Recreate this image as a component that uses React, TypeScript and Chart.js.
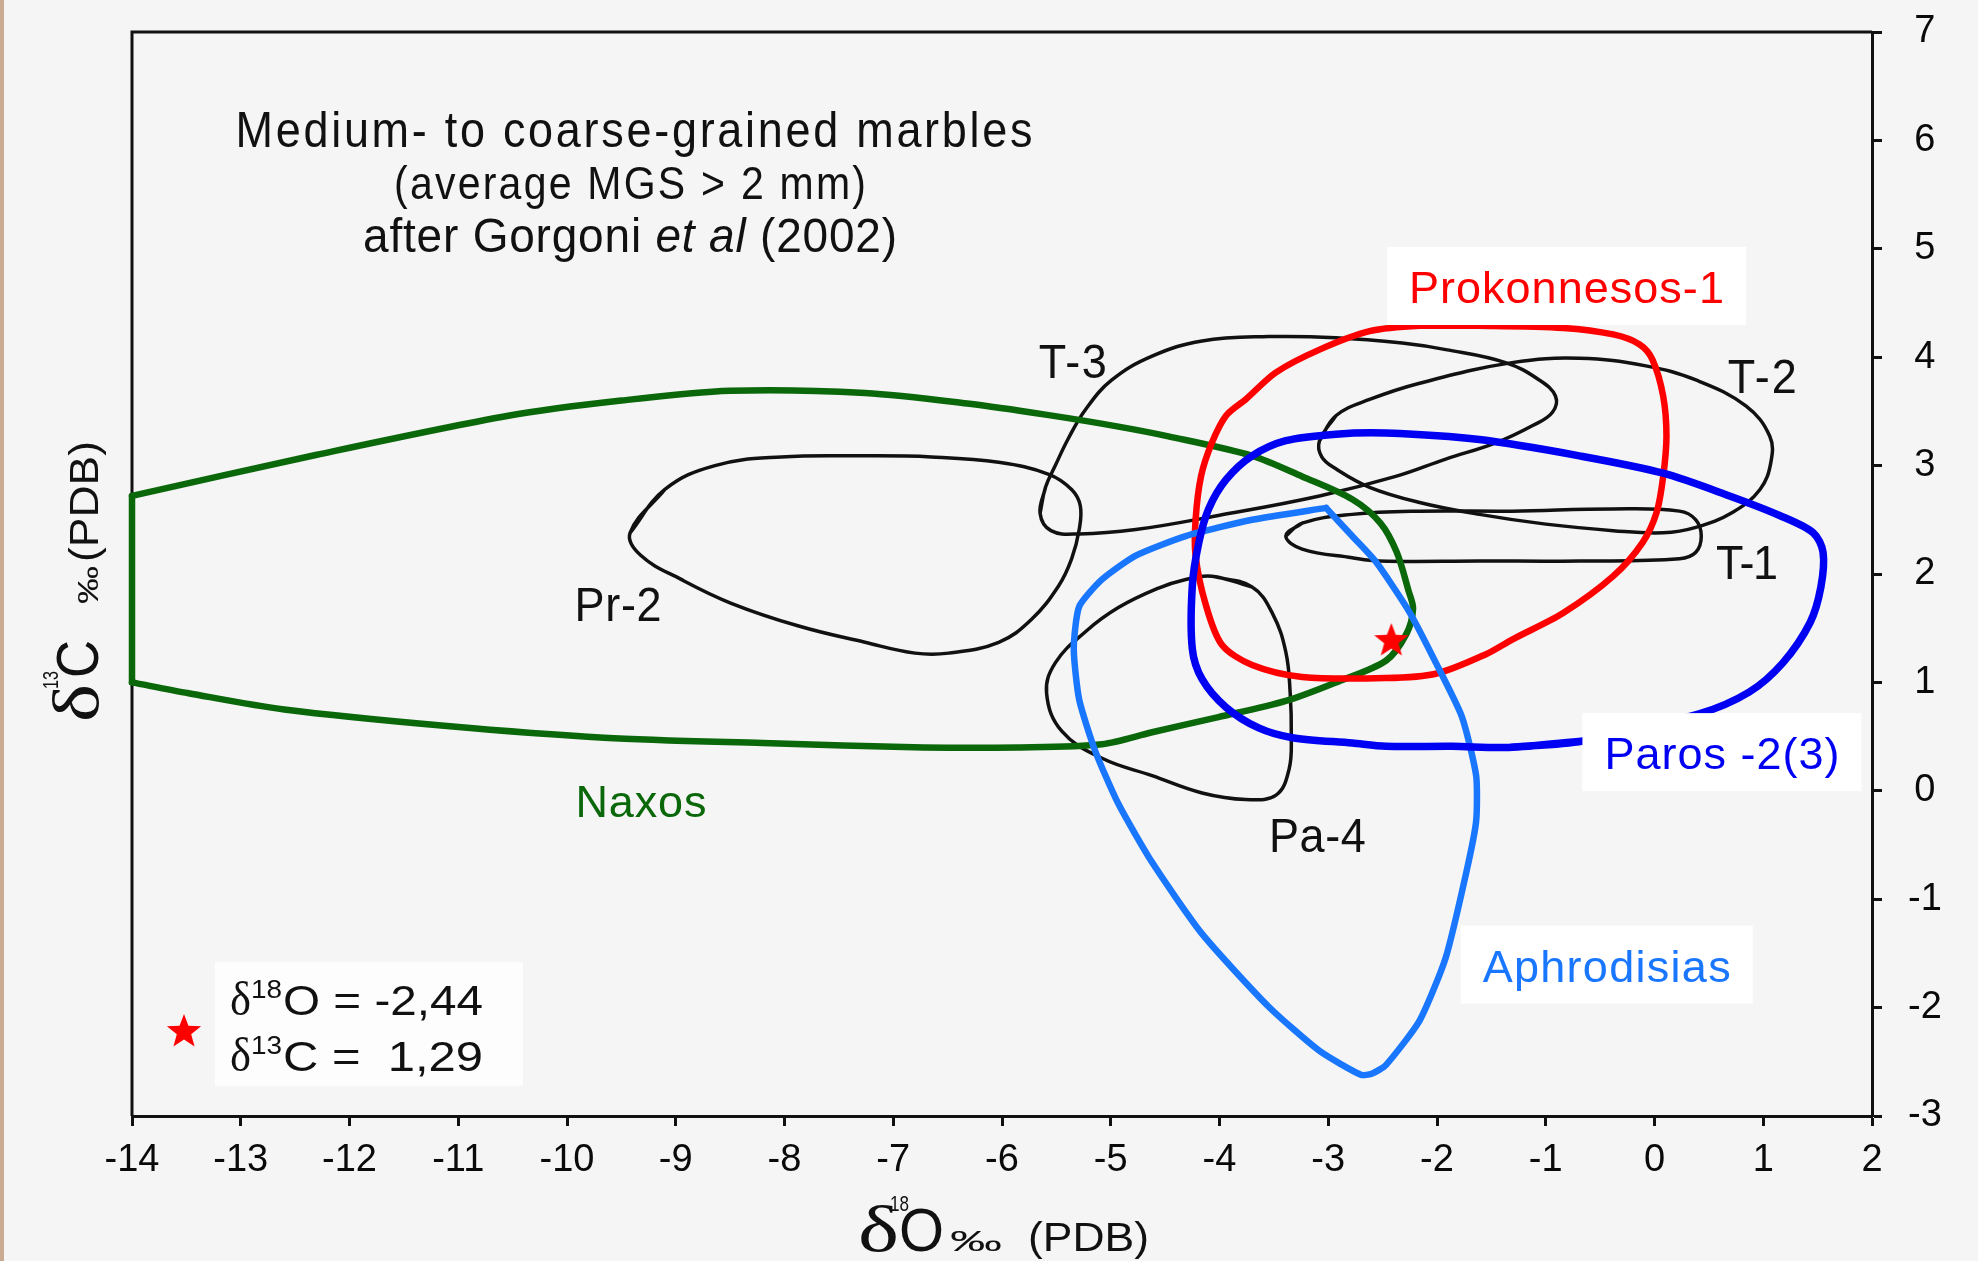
import React, { useEffect, useRef } from 'react';
import { Chart, registerables } from 'chart.js';

Chart.register(...registerables);

type Pt = [number, number];

const W = 1978;
const H = 1261;
const FONT = '"Liberation Sans", Arial, sans-serif';
const SERIF = '"Liberation Serif", "Times New Roman", serif';

// ---------- data (δ18O, δ13C) ----------
const naxosSide: Pt[] = [[-14, 1.0], [-14, 2.72]];
const naxos: Pt[] = [
  [-14, 2.72], [-12.3, 3.1], [-10.54, 3.46], [-9.5, 3.6], [-8.5, 3.69], [-7.26, 3.67],
  [-6.3, 3.57], [-5.6, 3.47], [-4.93, 3.36], [-4.47, 3.27], [-3.7, 3.09], [-3.24, 2.9],
  [-2.78, 2.69], [-2.52, 2.47], [-2.37, 2.2], [-2.26, 1.84], [-2.22, 1.68], [-2.28, 1.45],
  [-2.47, 1.2], [-2.93, 1.0], [-3.39, 0.83], [-4.01, 0.68], [-4.62, 0.54], [-5.08, 0.43],
  [-5.85, 0.4], [-6.72, 0.4], [-8.2, 0.44], [-9.66, 0.49], [-11.13, 0.6], [-12.6, 0.75],
  [-13.48, 0.9], [-14, 1.0],
];
const pr2: Pt[] = [
  [-9.42, 2.38], [-9.1, 2.78], [-8.64, 3.0], [-8.03, 3.08], [-7.26, 3.09], [-6.65, 3.08],
  [-6.03, 3.03], [-5.57, 2.92], [-5.36, 2.78], [-5.28, 2.63], [-5.29, 2.41], [-5.36, 2.14],
  [-5.48, 1.89], [-5.73, 1.58], [-6.03, 1.37], [-6.49, 1.27], [-6.8, 1.27], [-7.26, 1.37],
  [-7.87, 1.52], [-8.49, 1.73], [-8.95, 1.95], [-9.32, 2.17],
];
const t3: Pt[] = [
  [-5.65, 2.56], [-5.6, 2.8], [-5.51, 3.0], [-5.39, 3.25], [-5.23, 3.52], [-4.99, 3.79],
  [-4.62, 4.01], [-4.16, 4.15], [-3.55, 4.19], [-2.93, 4.18], [-2.32, 4.13], [-1.92, 4.07],
  [-1.37, 3.95], [-1.06, 3.79], [-0.91, 3.64], [-0.94, 3.49], [-1.12, 3.37], [-1.46, 3.21],
  [-1.92, 3.06], [-2.38, 2.9], [-3.08, 2.72], [-4.01, 2.54], [-4.77, 2.41], [-5.29, 2.37],
  [-5.55, 2.4],
];
const t2: Pt[] = [
  [-3.08, 3.23], [-2.93, 3.46], [-2.62, 3.61], [-2.16, 3.76], [-1.31, 3.95], [-0.69, 3.99],
  [-0.08, 3.92], [0.38, 3.79], [0.84, 3.55], [1.06, 3.27], [1.07, 3.03], [0.97, 2.78],
  [0.72, 2.57], [0.38, 2.43], [0.08, 2.38], [-0.38, 2.4], [-1.0, 2.46], [-1.61, 2.55],
  [-2.16, 2.66], [-2.62, 2.8], [-2.93, 2.97], [-3.06, 3.08],
];
const t1: Pt[] = [
  [-3.39, 2.35], [-3.24, 2.47], [-2.78, 2.55], [-2.16, 2.58], [-1.31, 2.58], [-0.39, 2.6],
  [0.23, 2.58], [0.38, 2.5], [0.43, 2.35], [0.38, 2.2], [0.23, 2.14], [-0.69, 2.12],
  [-1.61, 2.12], [-2.53, 2.12], [-2.78, 2.15], [-3.24, 2.23],
];
const pa4: Pt[] = [
  [-4.07, 1.98], [-3.7, 1.88], [-3.51, 1.63], [-3.39, 1.28], [-3.35, 0.9], [-3.34, 0.52],
  [-3.36, 0.2], [-3.48, -0.04], [-3.76, -0.08], [-4.16, -0.02], [-4.62, 0.14], [-5.08, 0.3],
  [-5.45, 0.55], [-5.59, 0.9], [-5.51, 1.18], [-5.23, 1.47], [-4.93, 1.69], [-4.56, 1.87],
  [-4.31, 1.95],
];
const prokonnesos: Pt[] = [
  [-2.16, 4.29], [-1.61, 4.29], [-0.84, 4.27], [-0.38, 4.21], [-0.14, 4.12], [-0.02, 3.98],
  [0.08, 3.64], [0.11, 3.27], [0.08, 2.9], [0.02, 2.57], [-0.11, 2.29], [-0.38, 1.98],
  [-0.84, 1.64], [-1.3, 1.4], [-1.55, 1.26], [-2.01, 1.08], [-2.47, 1.04], [-3.24, 1.05],
  [-3.7, 1.16], [-3.98, 1.35], [-4.13, 1.73], [-4.22, 2.17], [-4.22, 2.5], [-4.17, 2.9],
  [-4.07, 3.21], [-3.94, 3.46], [-3.76, 3.61], [-3.48, 3.86], [-3.08, 4.07], [-2.62, 4.24],
];
const paros: Pt[] = [
  [-0.66, 0.46], [-1.34, 0.4], [-1.86, 0.41], [-2.47, 0.41], [-2.78, 0.44], [-3.33, 0.49],
  [-3.64, 0.58], [-3.94, 0.77], [-4.16, 1.03], [-4.25, 1.31], [-4.25, 1.89], [-4.19, 2.29],
  [-4.1, 2.6], [-3.94, 2.87], [-3.7, 3.09], [-3.39, 3.23], [-2.93, 3.29], [-2.47, 3.3],
  [-1.61, 3.24], [-0.69, 3.09], [0.08, 2.93], [0.69, 2.72], [1.15, 2.54], [1.46, 2.38],
  [1.55, 2.2], [1.53, 1.88], [1.43, 1.55], [1.18, 1.18], [0.87, 0.91], [0.41, 0.71],
];
const aphrodisias: Pt[] = [
  [-3.02, 2.61], [-3.7, 2.5], [-4.31, 2.35], [-4.77, 2.17], [-5.08, 1.95], [-5.29, 1.7],
  [-5.34, 1.31], [-5.29, 0.84], [-5.14, 0.36], [-4.93, -0.12], [-4.62, -0.66], [-4.16, -1.32],
  [-3.55, -1.99], [-3.08, -2.4], [-2.7, -2.62], [-2.6, -2.61], [-2.47, -2.53], [-2.16, -2.12],
  [-1.92, -1.54], [-1.73, -0.75], [-1.64, -0.28], [-1.64, 0.14], [-1.77, 0.68], [-2.01, 1.18],
  [-2.26, 1.66], [-2.56, 2.11], [-2.78, 2.35], [-3.02, 2.61],
];
const samplePoint: Pt[] = [[-2.42, 1.4]];

// ---------- labels ----------
const regionNames = ['Pr-2', 'T-3', 'T-2', 'T-1', 'Pa-4'];
const regionNameX = [-9.53, -5.35, 0.99, 0.85, -3.1];
const regionNameY = [1.57, 3.81, 3.67, 1.95, -0.56];
const regionNameW = [87, 68, 69, 62, 97];

const groupNames = ['Naxos', 'Prokonnesos-1', 'Paros -2(3)', 'Aphrodisias'];
const groupNameX = [-9.32, -0.81, 0.62, -0.44];
const groupNameY = [-0.245, 4.5, 0.2, -1.76];
const groupNameW = [131, 315, 235, 248];
const groupBoxed = [false, true, true, true];

const GREEN = '#0a670a';
const RED = '#ff0000';
const PAROS = '#0000f2';
const APHRO = '#1976ff';
const groupColors = [GREEN, RED, PAROS, APHRO];

const titleLines = ['Medium- to coarse-grained marbles', '(average MGS > 2 mm)'];
const citation = ['after Gorgoni ', 'et al', ' (2002)'];
const legendLine1 = ['δ', '18', 'O = -2,44'];
const legendLine2 = ['δ', '13', 'C =  1,29'];

type Seg = { t: string; font: string; dy?: number };

function drawRun(
  ctx: any,
  segs: Seg[],
  x: number,
  y: number,
  width: number | null,
  color: string,
  sy = 1
) {
  ctx.save();
  ctx.fillStyle = color;
  ctx.textAlign = 'left';
  ctx.textBaseline = 'alphabetic';
  ctx.letterSpacing = '0px';
  let nat = 0;
  let n = 0;
  for (const s of segs) {
    ctx.font = s.font;
    nat += ctx.measureText(s.t).width;
    n += s.t.length;
  }
  const ls = width != null && n > 1 ? (width - nat) / (n - 1) : 0;
  ctx.letterSpacing = ls + 'px';
  ctx.translate(x, y);
  ctx.scale(1, sy);
  let cx = 0;
  for (const s of segs) {
    ctx.font = s.font;
    ctx.fillText(s.t, cx, (s.dy || 0) / sy);
    cx += ctx.measureText(s.t).width;
  }
  ctx.restore();
}

type Piece = { t: string; font: string; x: number; w: number; dy?: number };
function drawPieces(ctx: any, pieces: Piece[], color: string) {
  ctx.fillStyle = color;
  ctx.textAlign = 'left';
  ctx.textBaseline = 'alphabetic';
  for (const p of pieces) {
    ctx.font = p.font;
    ctx.letterSpacing = '0px';
    const nat = ctx.measureText(p.t).width;
    ctx.save();
    ctx.translate(p.x, p.dy || 0);
    ctx.scale(p.w / nat, 1);
    ctx.fillText(p.t, 0, 0);
    ctx.restore();
  }
}

function makeStar(size: number, color: string) {
  const c = document.createElement('canvas');
  c.width = size;
  c.height = size;
  const g = c.getContext('2d')!;
  const cx = size / 2;
  const cy = size / 2 + size * 0.05;
  const R = size / 2 - 1;
  const r = R * 0.42;
  g.beginPath();
  for (let i = 0; i < 10; i++) {
    const a = -Math.PI / 2 + (i * Math.PI) / 5;
    const rad = i % 2 === 0 ? R : r;
    g.lineTo(cx + rad * Math.cos(a), cy + rad * Math.sin(a));
  }
  g.closePath();
  g.fillStyle = color;
  g.fill();
  return c;
}

export default function App() {
  const ref = useRef<HTMLCanvasElement>(null);

  useEffect(() => {
    const canvas = ref.current!;
    const star = makeStar(38, RED);

    const line = (pts: Pt[], color: string, width: number, tension: number) => ({
      data: pts.map(([x, y]) => ({ x, y })),
      showLine: true,
      borderColor: color,
      backgroundColor: color,
      borderWidth: width,
      pointRadius: 0,
      pointHoverRadius: 0,
      tension,
      fill: false,
      clip: false,
      borderJoinStyle: 'round',
      borderCapStyle: 'round',
    });
    const closed = (pts: Pt[]) => [...pts, pts[0], pts[1]];

    const datasets: any[] = [
      {
        data: samplePoint.map(([x, y]) => ({ x, y })),
        showLine: false,
        pointStyle: star,
        pointRadius: 19,
        clip: false,
      },
      line(closed(paros), PAROS, 7.5, 0.3),
      line(aphrodisias, APHRO, 6.5, 0.2),
      line(closed(prokonnesos), RED, 6.5, 0.3),
      line(naxos, GREEN, 6.5, 0.3),
      line(naxosSide, GREEN, 6.5, 0),
      line(closed(pr2), '#111', 3.5, 0.4),
      line(closed(t3), '#111', 3.5, 0.4),
      line(closed(t2), '#111', 3.5, 0.4),
      line(closed(t1), '#111', 3.5, 0.4),
      line(closed(pa4), '#111', 3.5, 0.4),
    ];

    const deco = {
      id: 'deco',
      beforeDraw(chart: any) {
        const ctx = chart.ctx;
        ctx.save();
        ctx.fillStyle = '#f5f5f5';
        ctx.fillRect(0, 0, W, H);
        ctx.fillStyle = '#c9ab94';
        ctx.fillRect(0, 0, 4, H);
        ctx.fillStyle = '#fdfdfd';
        ctx.fillRect(215, 962, 308, 124);
        ctx.restore();
      },
      beforeDatasetsDraw(chart: any) {
        const ctx = chart.ctx;
        const a = chart.chartArea;
        ctx.save();
        ctx.strokeStyle = '#111';
        ctx.lineWidth = 3;
        ctx.beginPath();
        ctx.moveTo(a.left, a.bottom);
        ctx.lineTo(a.left, a.top);
        ctx.lineTo(a.right, a.top);
        ctx.stroke();
        ctx.restore();
      },
      afterDatasetsDraw(chart: any) {
        const ctx = chart.ctx;
        const xs = chart.scales.x;
        const ys = chart.scales.y;
        ctx.save();
        groupNames.forEach((name, i) => {
          const cx = xs.getPixelForValue(groupNameX[i]);
          const by = ys.getPixelForValue(groupNameY[i]);
          const w = groupNameW[i];
          if (groupBoxed[i]) {
            ctx.fillStyle = '#ffffff';
            ctx.fillRect(cx - w / 2 - 22, by - 56, w + 44, 78);
          }
          drawRun(ctx, [{ t: name, font: `45px ${FONT}` }], cx - w / 2, by, w, groupColors[i]);
        });
        regionNames.forEach((name, i) => {
          const cx = xs.getPixelForValue(regionNameX[i]);
          const by = ys.getPixelForValue(regionNameY[i]);
          const w = regionNameW[i];
          drawRun(ctx, [{ t: name, font: `45px ${FONT}` }], cx - w / 2, by, w, '#111', 1.08);
        });
        ctx.restore();
      },
      afterDraw(chart: any) {
        const ctx = chart.ctx;
        ctx.save();
        drawRun(ctx, [{ t: titleLines[0], font: `45px ${FONT}` }], 634 - 797 / 2, 147, 797, '#111', 1.12);
        drawRun(ctx, [{ t: titleLines[1], font: `41px ${FONT}` }], 630 - 472 / 2, 199, 472, '#111', 1.12);
        drawRun(
          ctx,
          [
            { t: citation[0], font: `46px ${FONT}` },
            { t: citation[1], font: `italic 46px ${FONT}` },
            { t: citation[2], font: `46px ${FONT}` },
          ],
          630 - 534 / 2,
          252,
          534,
          '#111',
          1.05
        );
        ctx.drawImage(star, 184 - 19, 1030 - 19);
        const legend = (segs: string[], y: number) =>
          drawPieces(
            ctx,
            [
              { t: segs[0], font: `48px ${SERIF}`, x: 230, w: 21, dy: y },
              { t: segs[1], font: `25px ${FONT}`, x: 251, w: 31, dy: y - 17 },
              { t: segs[2], font: `43px ${FONT}`, x: 283, w: segs[2].length > 9 ? 197 : 200, dy: y },
            ],
            '#111'
          );
        legend(legendLine1, 1015);
        legend(legendLine2, 1071);
        // x axis title
        ctx.save();
        ctx.translate(858, 1251);
        drawPieces(
          ctx,
          [
            { t: 'δ', font: `66px ${SERIF}`, x: 0, w: 41 },
            { t: '18', font: `22px ${FONT}`, x: 32, w: 19, dy: -40 },
            { t: 'O', font: `62px ${FONT}`, x: 41, w: 45 },
            { t: '‰', font: `30px ${FONT}`, x: 92, w: 52 },
            { t: '(PDB)', font: `41px ${FONT}`, x: 170, w: 121 },
          ],
          '#111'
        );
        ctx.restore();
        // y axis title
        ctx.save();
        ctx.translate(98, 722);
        ctx.rotate(-Math.PI / 2);
        drawPieces(
          ctx,
          [
            { t: 'δ', font: `66px ${SERIF}`, x: 0, w: 38 },
            { t: '13', font: `22px ${FONT}`, x: 33, w: 18, dy: -40 },
            { t: 'C', font: `60px ${FONT}`, x: 44, w: 38 },
            { t: '‰', font: `30px ${FONT}`, x: 118, w: 38 },
            { t: '(PDB)', font: `41px ${FONT}`, x: 160, w: 121 },
          ],
          '#111'
        );
        ctx.restore();
        ctx.restore();
      },
    };

    const chart = new Chart(canvas, {
      type: 'scatter',
      data: { datasets },
      options: {
        animation: false,
        responsive: false,
        devicePixelRatio: 1,
        events: [],
        layout: { padding: { left: 132, top: 32, right: 0, bottom: 0 } },
        plugins: { legend: { display: false }, tooltip: { enabled: false }, title: { display: false } },
        scales: {
          x: {
            type: 'linear',
            position: 'bottom',
            min: -14,
            max: 2,
            afterFit: (s: any) => {
              s.height = 145;
              s.paddingLeft = 0;
              s.paddingRight = 0;
            },
            ticks: {
              stepSize: 1,
              autoSkip: false,
              maxRotation: 0,
              padding: 12,
              color: '#0a0a0a',
              font: { family: 'Liberation Sans', size: 38 },
            },
            grid: { drawOnChartArea: false, drawTicks: true, tickLength: 10, tickWidth: 3, tickColor: '#111' },
            border: { display: true, color: '#111', width: 3 },
          },
          y: {
            type: 'linear',
            position: 'right',
            min: -3,
            max: 7,
            afterFit: (s: any) => {
              s.width = W - 1872;
              s.paddingTop = 0;
              s.paddingBottom = 0;
            },
            ticks: {
              stepSize: 1,
              autoSkip: false,
              crossAlign: 'center',
              padding: 26,
              color: '#0a0a0a',
              font: { family: 'Liberation Sans', size: 38 },
            },
            grid: { drawOnChartArea: false, drawTicks: true, tickLength: 10, tickWidth: 3, tickColor: '#111' },
            border: { display: true, color: '#111', width: 3 },
          },
        },
      } as any,
      plugins: [deco],
    });

    return () => chart.destroy();
  }, []);

  return (
    <div style={{ position: 'absolute', left: 0, top: 0, width: W, height: H, background: '#f5f5f5' }}>
      <canvas ref={ref} width={W} height={H} style={{ display: 'block', width: W, height: H }} />
    </div>
  );
}
